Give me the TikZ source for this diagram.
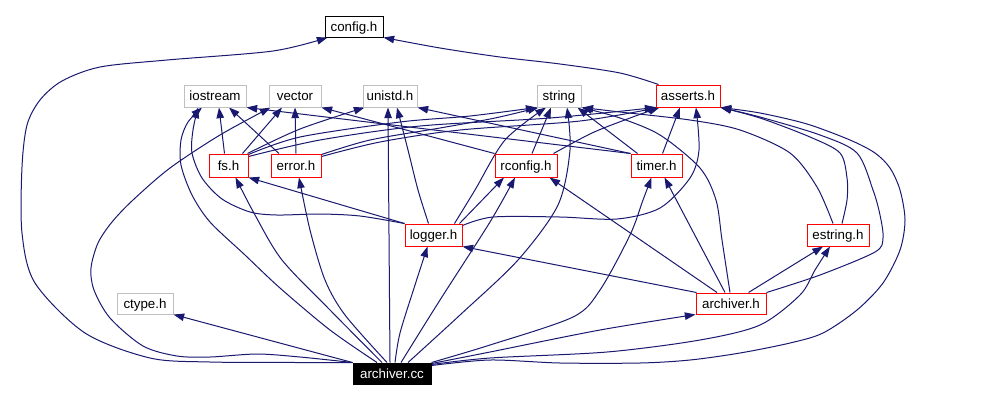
\documentclass[tikz,border=0pt]{standalone}
\usepackage{fontspec}
\setmainfont{Liberation Sans}
\usetikzlibrary{arrows.meta,calc}
\pgfdeclarelayer{bg}
\pgfsetlayers{bg,main}
\definecolor{edgeblue}{HTML}{191970}
\definecolor{boxred}{HTML}{FF0000}
\definecolor{boxgray}{HTML}{BFBFBF}
\tikzset{
 hdr/.style={draw, fill=white, line width=0.75pt, inner sep=0pt, text height=7.1pt, text depth=0pt, font=\fontsize{10}{12}\selectfont, text=black},
 dochdr/.style={hdr, draw=boxred},
 syshdr/.style={hdr, draw=boxgray},
 mainhdr/.style={hdr, draw=black},
 roothdr/.style={hdr, draw=black, fill=black, text=white},
 bw/.style={minimum width=#1*0.75pt},
 bh/.style={minimum height=#1*0.75pt},
 dep/.style={draw=edgeblue, line width=0.75pt, -{Triangle[length=8pt,width=5.6pt]}},
}
\begin{document}
\begin{tikzpicture}[x=0.75pt,y=-0.75pt]
\useasboundingbox (0,0) rectangle (991,401);
% nodes
\node[mainhdr,bw=58,bh=21] (config) at (354,26.5) {config.h};
\node[syshdr,bw=62,bh=22] (iostream) at (215,96) {iostream};
\node[syshdr,bw=52,bh=22] (vector) at (295,96) {vector};
\node[syshdr,bw=54,bh=22] (unistd) at (390,96) {unistd.h};
\node[syshdr,bw=44,bh=22] (string) at (559,96) {string};
\node[dochdr,bw=64,bh=22] (asserts) at (688,96) {asserts.h};
\node[dochdr,bw=39,bh=23] (fs) at (228.5,165.5) {fs.h};
\node[dochdr,bw=50,bh=23] (error) at (296,165.5) {error.h};
\node[dochdr,bw=62,bh=23] (rconfig) at (526,165.5) {rconfig.h};
\node[dochdr,bw=51,bh=23] (timer) at (656.5,165.5) {timer.h};
\node[dochdr,bw=57,bh=22] (logger) at (433.5,235) {logger.h};
\node[dochdr,bw=62,bh=22] (estring) at (838,235) {estring.h};
\node[syshdr,bw=56,bh=21] (ctype) at (145,303.5) {ctype.h};
\node[dochdr,bw=70,bh=21] (archiverh) at (731,303.5) {archiver.h};
\node[roothdr,bw=78,bh=21] (archivercc) at (392,373.5) {archiver.cc};
\begin{pgfonlayer}{bg}
\fill[white] (0,0) rectangle (991,401);
% archiver.cc includes
\draw[dep] plot[smooth] coordinates {(archivercc.north west) (300,362.5) (210,362) (150,358) (85,333) (35,283) (22,233) (22,167) (27,125) (40,100) (62,81) (100,67) (167,60) (273,51) ($(config.south west)+(3,0)$)};
\draw[dep] (archivercc.north west) -- (ctype.south east);
\draw[dep] plot[smooth] coordinates {($(archivercc.north)+(-15,0)$) (330,330) (280,288) (245,255) (210,222) (192,195) (181,165) (181,140) (188,122) ($(iostream.south)+(-13,0)$)};
\draw[dep] plot[smooth] coordinates {(archivercc.north west) (300,357) (257,354) (210,357) (177,356) (143,346) (110,318) (94,290) (91,268) (98,243) (112,222) (133,200) (170,168) (220,135) ($(vector.south west)+(2,0)$)};
\draw[dep] ($(archivercc.north)+(-2,0)$) -- ($(unistd.south)+(-2,0)$);
\draw[dep] plot[smooth] coordinates {($(archivercc.north)+(-10,0)$) (330,310) (282,260) (255,215) ($(fs.south)+(7,0)$)};
\draw[dep] plot[smooth] coordinates {($(archivercc.north)+(-5,0)$) (345,315) (325,280) (310,230) ($(error.south)+(3,0)$)};
\draw[dep] plot[smooth] coordinates {($(archivercc.north)+(16,0)$) (460,315) (518,260) (558,205) (570,150) ($(string.south)+(8,0)$)};
\draw[dep] plot[smooth] coordinates {($(archivercc.north)+(9,0)$) (440,300) (490,222) ($(rconfig.south)+(-11,0)$)};
\draw[dep] plot[smooth] coordinates {($(archivercc.north)+(3,0)$) (400,333) (415,285) ($(logger.south)+(-6,0)$)};
\draw[dep] plot[smooth] coordinates {($(archivercc.north east)+(0,1)$) (490,352) (600,330) (archiverh.south west)};
\draw[dep] plot[smooth] coordinates {($(archivercc.north east)+(0,2)$) (490,358) (607,352) (700,340) (760,325) (800,295) (815,270) ($(estring.south)+(-8,0)$)};
\draw[dep] plot[smooth] coordinates {($(archivercc.north east)+(0,3)$) (490,360) (560,363) (640,363) (690,360) (740,353) (790,343) (823,333) (857,310) (883,283) (900,250) (905,220) (900,190) (890,168) (875,153) (850,140) (807,124) (760,113) (asserts.south east)};
\draw[dep] plot[smooth] coordinates {(archivercc.north east) (490,345) (573,317) (600,290) (630,235) (643,200) ($(timer.south)+(-5,0)$)};
% asserts.h
\draw[dep] plot[smooth] coordinates {($(asserts.north west)+(3,0)$) (620,73) (560,64) (500,57) (440,48) (config.south east)};
% fs.h
\draw[dep] ($(fs.north)+(-4,0)$) -- ($(iostream.south)+(4,0)$);
\draw[dep] ($(fs.north)+(14,0)$) -- ($(vector.south)+(-13,0)$);
\draw[dep] plot[smooth] coordinates {($(fs.north east)+(-1,0)$) (300,129) ($(unistd.south west)+(2,0)$)};
\draw[dep] plot[smooth] coordinates {($(fs.north east)+(0,1)$) (300,137) (400,122) (470,116) ($(string.south west)+(0,0)$)};
\draw[dep] plot[smooth] coordinates {($(fs.north east)+(0,3)$) (320,140) (420,126) (550,118) ($(asserts.south west)+(0,0)$)};
% error.h
\draw[dep] ($(error.north)+(-17,0)$) -- ($(iostream.south)+(14,0)$);
\draw[dep] (error.north) -- (vector.south);
\draw[dep] plot[smooth] coordinates {($(error.north east)+(0,1)$) (370,140) (440,128) (495,118) ($(string.south west)+(2,0)$)};
\draw[dep] plot[smooth] coordinates {($(error.north east)+(0,3)$) (380,142) (460,130) (580,121) ($(asserts.south west)+(3,0)$)};
% rconfig.h
\draw[dep] (rconfig.north west) -- (vector.south east);
\draw[dep] ($(rconfig.north)+(6,0)$) -- ($(string.south)+(-8,0)$);
\draw[dep] plot[smooth] coordinates {($(rconfig.north east)+(-4,0)$) (592,133) (630,118) ($(asserts.south west)+(4,0)$)};
% timer.h
\draw[dep] (timer.north west) -- (unistd.south east);
\draw[dep] (timer.north west) -- (iostream.south east);
\draw[dep] ($(timer.north)+(-19,0)$) -- ($(string.south east)+(-4,0)$);
\draw[dep] ($(timer.north)+(6,0)$) -- ($(asserts.south)+(-8,0)$);
% logger.h
\draw[dep] plot[smooth] coordinates {(logger.north west) (360,216) (320,214) (277,215) (250,212) (222,199) (202,178) (192,153) (193,130) ($(iostream.south)+(-17,0)$)};
\draw[dep] (logger.north west) -- (fs.south east);
\draw[dep] plot[smooth] coordinates {($(logger.north)+(-5,0)$) (418,190) (408,150) ($(unistd.south)+(7,0)$)};
\draw[dep] plot[smooth] coordinates {($(logger.north east)+(-8,0)$) (475,190) (505,140) ($(string.south)+(-13,0)$)};
\draw[dep] ($(logger.north east)+(-3,0)$) -- ($(rconfig.south)+(-22,0)$);
\draw[dep] plot[smooth] coordinates {($(logger.north east)+(0,2)$) (493,217) (560,217) (617,219) (660,208) (690,178) (699,150) ($(asserts.south)+(8,0)$)};
% archiver.h
\draw[dep] ($(archiverh.north west)+(1,0)$) -- (logger.south east);
\draw[dep] ($(archiverh.north)+(-14,0)$) -- ($(rconfig.south east)+(-8,0)$);
\draw[dep] ($(archiverh.north)+(-6,0)$) -- ($(timer.south)+(8,0)$);
\draw[dep] plot[smooth] coordinates {($(archiverh.north)+(-1,0)$) (722,240) (716,200) (700,168) (660,135) (620,118) (string.south east)};
\draw[dep] ($(archiverh.north east)+(-18,0)$) -- ($(estring.south)+(-15,0)$);
\draw[dep] plot[smooth] coordinates {(archiverh.north east) (820,275) (875,252) (883,238) (880,215) (873,190) (857,153) (820,135) (760,117) (asserts.south east)};
% estring.h
\draw[dep] plot[smooth] coordinates {($(estring.north)+(-5,0)$) (817,187) (790,153) (740,130) (690,120) (620,112) ($(string.south east)+(1,0)$)};
\draw[dep] plot[smooth] coordinates {($(estring.north)+(4,0)$) (847,200) (847,178) (840,153) (810,137) (760,118) (asserts.south east)};
\end{pgfonlayer}
\end{tikzpicture}
\end{document}
